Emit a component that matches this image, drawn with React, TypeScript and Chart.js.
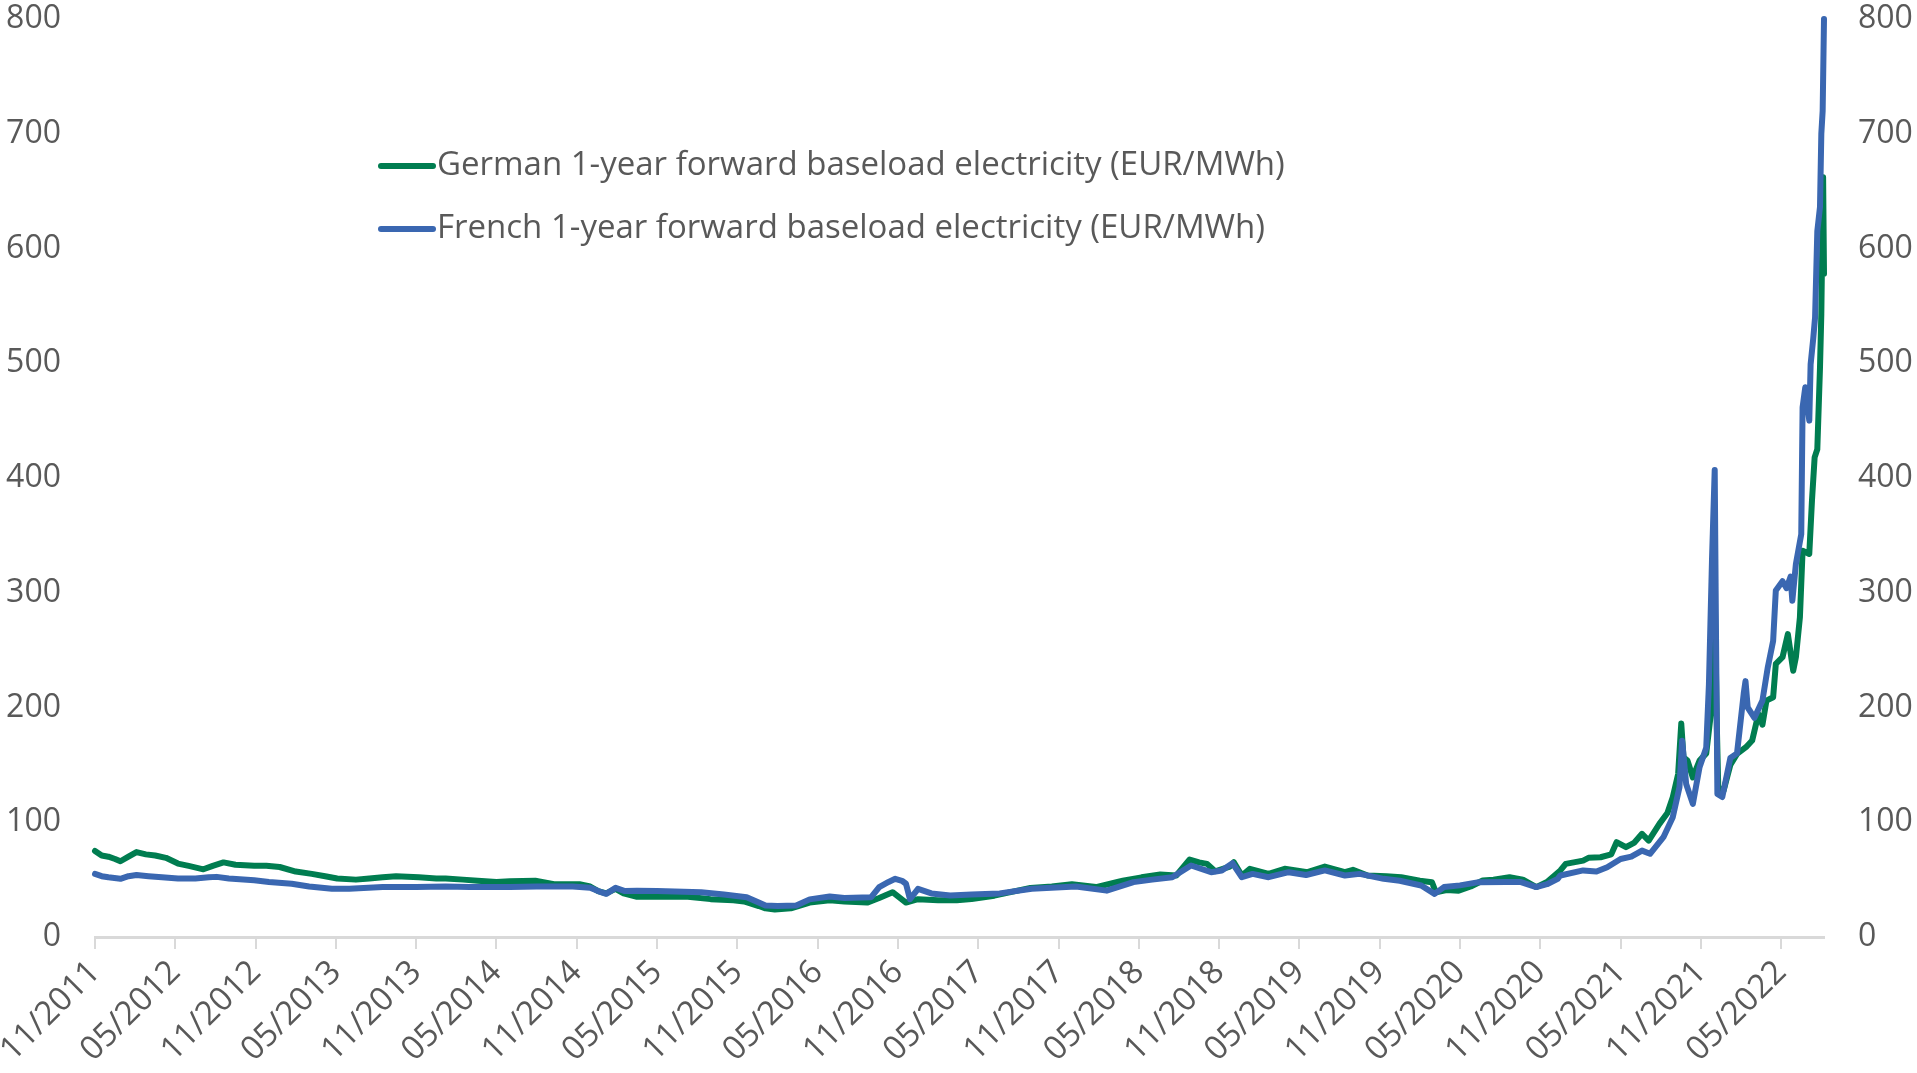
import React, { useEffect, useRef } from 'react';
import { Chart, registerables } from 'chart.js';

Chart.register(...registerables);

const tickLabels = [
  '11/2011', '05/2012', '11/2012', '05/2013', '11/2013', '05/2014', '11/2014', '05/2015',
  '11/2015', '05/2016', '11/2016', '05/2017', '11/2017', '05/2018', '11/2018', '05/2019',
  '11/2019', '05/2020', '11/2020', '05/2021', '11/2021', '05/2022',
];

const seriesNames = [
  'German 1-year forward baseload electricity (EUR/MWh)',
  'French 1-year forward baseload electricity (EUR/MWh)',
];

const germanDates = [
  '2011-11-01', '2011-11-16', '2011-12-01', '2011-12-16', '2011-12-28', '2012-01-16', '2012-02-04', '2012-02-25',
  '2012-03-16', '2012-04-10', '2012-05-07', '2012-06-01', '2012-07-04', '2012-07-25', '2012-08-19', '2012-09-16',
  '2012-10-28', '2012-11-25', '2012-12-25', '2013-02-01', '2013-03-07', '2013-04-07', '2013-05-04', '2013-06-16',
  '2013-07-16', '2013-08-16', '2013-09-16', '2013-11-07', '2013-12-16', '2014-01-07', '2014-02-16', '2014-03-19',
  '2014-05-01', '2014-06-01', '2014-07-28', '2014-09-10', '2014-11-07', '2014-12-01', '2014-12-19', '2015-01-07',
  '2015-01-28', '2015-02-16', '2015-03-16', '2015-05-01', '2015-07-10', '2015-09-01', '2015-10-22', '2015-11-16',
  '2015-12-19', '2016-01-04', '2016-01-25', '2016-03-01', '2016-04-13', '2016-05-28', '2016-07-01', '2016-08-22',
  '2016-09-19', '2016-10-19', '2016-11-19', '2016-12-16', '2017-02-01', '2017-03-13', '2017-04-16', '2017-06-07',
  '2017-08-28', '2017-10-16', '2017-12-01', '2018-01-25', '2018-03-25', '2018-05-07', '2018-06-19', '2018-07-25',
  '2018-08-25', '2018-09-16', '2018-10-04', '2018-10-22', '2018-11-25', '2018-12-04', '2018-12-22', '2019-01-10',
  '2019-02-22', '2019-03-28', '2019-05-19', '2019-06-28', '2019-08-13', '2019-09-01', '2019-10-04', '2019-11-16',
  '2019-12-19', '2020-02-01', '2020-02-28', '2020-03-07', '2020-04-01', '2020-04-28', '2020-05-25', '2020-06-22',
  '2020-07-16', '2020-08-22', '2020-09-22', '2020-10-22', '2020-11-16', '2020-12-16', '2020-12-28', '2021-02-07',
  '2021-02-19', '2021-03-16', '2021-04-10', '2021-04-22', '2021-05-13', '2021-06-01', '2021-06-19', '2021-07-04',
  '2021-07-28', '2021-08-16', '2021-08-28', '2021-09-10', '2021-09-17', '2021-09-22', '2021-10-01', '2021-10-13',
  '2021-10-19', '2021-10-28', '2021-11-13', '2021-11-25', '2021-12-02', '2021-12-07', '2021-12-10', '2021-12-22',
  '2022-01-07', '2022-01-22', '2022-02-12', '2022-02-26', '2022-03-10', '2022-03-19', '2022-03-28', '2022-04-13',
  '2022-04-19', '2022-05-04', '2022-05-16', '2022-05-28', '2022-06-04', '2022-06-13', '2022-06-19', '2022-07-04',
  '2022-07-10', '2022-07-16', '2022-07-22', '2022-07-28', '2022-08-01', '2022-08-05', '2022-08-07',
];

const germanValues = [
  75, 71, 70, 68, 66, 70, 74, 72,
  71, 69, 64, 62, 59, 62, 65, 63,
  62, 62, 61, 57, 55, 53, 51, 50,
  51, 52, 53, 52, 51, 51, 50, 49,
  48, 48.6, 49, 46, 46, 44, 40, 38,
  42, 38, 35, 35, 35, 33, 32, 31,
  27, 25, 24, 25, 30, 32, 31, 30,
  34, 39, 30, 33, 32, 32, 33, 36,
  42.8, 44, 46, 43.5, 49, 52, 54.4, 53.6,
  67.5, 65, 63.7, 57.3, 61.4, 65.2, 53.6, 59.4,
  55, 59.4, 56.5, 61.4, 56.5, 58.5, 53.6, 53,
  52.1, 49, 47.8, 39, 41, 40.4, 44, 49.2,
  50, 52.1, 50, 43.5, 48, 58, 63.7, 66.6,
  69, 69.5, 72, 82.6, 78.3, 82, 89.9, 84,
  98.6, 108, 121.8, 142, 186, 156.6, 153.7, 139,
  145, 153.7, 160, 200, 300, 180, 130, 127.6,
  150, 159.6, 165.4, 171.2, 194.4, 185, 206, 208.9,
  238, 243.8, 264, 232, 243.8, 278.6, 336.7, 333.8,
  380, 418, 425, 496, 543, 662, 578,
];

const frenchDates = [
  '2011-11-01', '2011-11-16', '2011-12-01', '2011-12-28', '2012-01-16', '2012-02-04', '2012-03-01', '2012-04-01',
  '2012-05-07', '2012-06-16', '2012-07-16', '2012-08-04', '2012-09-01', '2012-10-28', '2012-12-01', '2013-01-22',
  '2013-03-01', '2013-04-22', '2013-06-01', '2013-08-16', '2013-11-01', '2014-01-07', '2014-03-01', '2014-06-01',
  '2014-08-01', '2014-10-22', '2014-12-01', '2014-12-19', '2015-01-07', '2015-01-28', '2015-02-19', '2015-03-16',
  '2015-05-01', '2015-08-10', '2015-10-01', '2015-11-22', '2015-12-19', '2016-01-04', '2016-02-01', '2016-03-13',
  '2016-04-13', '2016-05-28', '2016-07-01', '2016-09-01', '2016-09-19', '2016-10-10', '2016-10-25', '2016-11-10',
  '2016-11-19', '2016-11-28', '2016-12-16', '2017-01-16', '2017-02-28', '2017-04-16', '2017-06-19', '2017-09-01',
  '2017-12-10', '2018-02-19', '2018-04-19', '2018-06-01', '2018-07-16', '2018-08-28', '2018-10-13', '2018-11-07',
  '2018-12-01', '2018-12-22', '2019-01-16', '2019-02-22', '2019-04-07', '2019-05-16', '2019-06-28', '2019-08-13',
  '2019-09-16', '2019-11-10', '2019-12-16', '2020-02-04', '2020-03-04', '2020-03-25', '2020-05-01', '2020-06-13',
  '2020-08-13', '2020-09-16', '2020-10-22', '2020-11-16', '2020-12-10', '2020-12-16', '2021-02-07', '2021-03-07',
  '2021-04-01', '2021-05-01', '2021-05-25', '2021-06-19', '2021-07-07', '2021-08-07', '2021-08-28', '2021-09-13',
  '2021-09-19', '2021-09-28', '2021-10-13', '2021-10-28', '2021-11-13', '2021-11-19', '2021-11-26', '2021-12-02',
  '2021-12-05', '2021-12-08', '2021-12-19', '2022-01-07', '2022-01-22', '2022-02-07', '2022-02-11', '2022-02-16',
  '2022-03-01', '2022-03-19', '2022-04-01', '2022-04-13', '2022-04-19', '2022-05-04', '2022-05-13', '2022-05-22',
  '2022-05-26', '2022-06-04', '2022-06-16', '2022-06-19', '2022-06-25', '2022-07-04', '2022-07-07', '2022-07-13',
  '2022-07-17', '2022-07-22', '2022-07-28', '2022-08-01', '2022-08-04', '2022-08-07',
];

const frenchValues = [
  55, 53, 52, 50.7, 53, 54, 53, 52,
  51, 51, 52, 52.4, 51, 49.4, 48, 46.4,
  44, 42, 42, 43.5, 43.5, 44, 43.5, 43.5,
  44, 44, 43, 40, 37.6, 42.8, 40, 40.4,
  40, 39, 37, 34.7, 30, 27.4, 27, 27.4,
  32.8, 35.3, 34, 34.7, 43.5, 48, 50.7, 49,
  46.4, 33, 42, 38, 36.2, 37, 38, 42,
  44, 40.4, 47.8, 50, 52.1, 62.3, 56.5, 58,
  64.3, 52.1, 55, 52.1, 56.5, 54, 58, 53.6,
  55, 50.7, 49, 44.9, 37.6, 43.5, 45, 47.8,
  48, 48, 43.5, 46, 50.7, 53.6, 58, 57,
  60.8, 68, 70, 75.3, 72.5, 87, 104.4, 130.5,
  171, 133.4, 116, 148, 165, 220, 330, 407,
  260, 124.7, 122, 156, 160, 212, 223, 200,
  191, 206, 235, 258, 302, 310, 304, 314,
  293, 325, 351, 461.5, 479, 450, 499, 522,
  540, 615, 636, 700, 720, 800,
];

const GREEN = '#007D50';
const BLUE = '#3A67B1';
const TEXT = '#595959';
const AXIS = '#D9D9D9';
const FONT = '"Open Sans", "Noto Sans", sans-serif';

function monthIndex(date: string): number {
  const [y, m, d] = date.split('-').map(Number);
  return (y - 2011) * 12 + (m - 11) + (d - 1) / 30;
}

function tickIndex(label: string): number {
  const [m, y] = label.split('/').map(Number);
  return (y - 2011) * 12 + (m - 11);
}

const legendPlugin = {
  id: 'insideLegend',
  afterDraw(chart: any) {
    const ctx = chart.ctx as CanvasRenderingContext2D;
    const items = [
      { name: seriesNames[0], color: GREEN, y: 166 },
      { name: seriesNames[1], color: BLUE, y: 229 },
    ];
    ctx.save();
    ctx.font = `33px ${FONT}`;
    ctx.textBaseline = 'middle';
    ctx.textAlign = 'left';
    for (const it of items) {
      ctx.strokeStyle = it.color;
      ctx.lineWidth = 6;
      ctx.lineCap = 'round';
      ctx.beginPath();
      ctx.moveTo(381, it.y);
      ctx.lineTo(433, it.y);
      ctx.stroke();
      ctx.fillStyle = TEXT;
      ctx.fillText(it.name, 437, it.y);
    }
    ctx.restore();
  },
};

export default function App() {
  const canvasRef = useRef<HTMLCanvasElement | null>(null);

  useEffect(() => {
    if (!canvasRef.current) return;
    const germanData = germanDates.map((d, i) => ({ x: monthIndex(d), y: germanValues[i] }));
    const frenchData = frenchDates.map((d, i) => ({ x: monthIndex(d), y: frenchValues[i] }));
    const tickValues = tickLabels.map(tickIndex);
    const xMax = Math.max(monthIndex(germanDates[germanDates.length - 1]), monthIndex(frenchDates[frenchDates.length - 1]));

    const yTicks = {
      color: TEXT,
      font: { family: FONT, size: 32 },
      padding: 34,
      stepSize: 100,
    };

    const fitY = (width: number) => (scale: any) => {
      scale.width = width;
      scale.paddingTop = 19;
      scale.paddingBottom = 0;
    };

    const chart = new Chart(canvasRef.current, {
      type: 'line',
      data: {
        datasets: [
          {
            label: seriesNames[0],
            data: germanData,
            borderColor: GREEN,
            backgroundColor: GREEN,
            borderWidth: 6,
            pointRadius: 0,
            tension: 0,
            order: 2,
            borderJoinStyle: 'round',
            borderCapStyle: 'round',
            yAxisID: 'y',
          },
          {
            label: seriesNames[1],
            data: frenchData,
            borderColor: BLUE,
            backgroundColor: BLUE,
            borderWidth: 6,
            pointRadius: 0,
            tension: 0,
            order: 1,
            borderJoinStyle: 'round',
            borderCapStyle: 'round',
            yAxisID: 'y',
          },
        ],
      },
      options: {
        animation: false,
        responsive: false,
        devicePixelRatio: 1,
        clip: false,
        layout: { padding: 0 },
        plugins: {
          legend: { display: false },
          tooltip: { enabled: false },
        },
        scales: {
          x: {
            type: 'linear',
            min: 0,
            max: xMax,
            afterBuildTicks: (scale: any) => {
              scale.ticks = tickValues.map((v) => ({ value: v }));
            },
            afterFit: (scale: any) => {
              scale.height = 136;
            },
            ticks: {
              autoSkip: false,
              minRotation: 45,
              maxRotation: 45,
              color: TEXT,
              font: { family: FONT, size: 33 },
              padding: 4,
              callback: (value: any) => {
                const idx = tickValues.indexOf(Number(value));
                return idx >= 0 ? tickLabels[idx] : '';
              },
            },
            grid: {
              display: true,
              drawOnChartArea: false,
              drawTicks: true,
              tickLength: 12,
              color: AXIS,
              lineWidth: 2,
            },
            border: { display: true, color: AXIS, width: 3 },
          },
          y: {
            position: 'left',
            min: 0,
            max: 800,
            ticks: yTicks,
            grid: { display: false, drawTicks: false },
            border: { display: false },
            afterFit: fitY(95),
          },
          y2: {
            position: 'right',
            min: 0,
            max: 800,
            display: true,
            ticks: yTicks,
            grid: { display: false, drawTicks: false },
            border: { display: false },
            afterFit: fitY(93),
          },
        },
      } as any,
      plugins: [legendPlugin],
    });
    return () => chart.destroy();
  }, []);

  return (
    <div style={{ position: 'absolute', left: 0, top: 0, width: 1917, height: 1073, background: '#fff' }}>
      <canvas ref={canvasRef} width={1917} height={1073} style={{ display: 'block' }} />
    </div>
  );
}
